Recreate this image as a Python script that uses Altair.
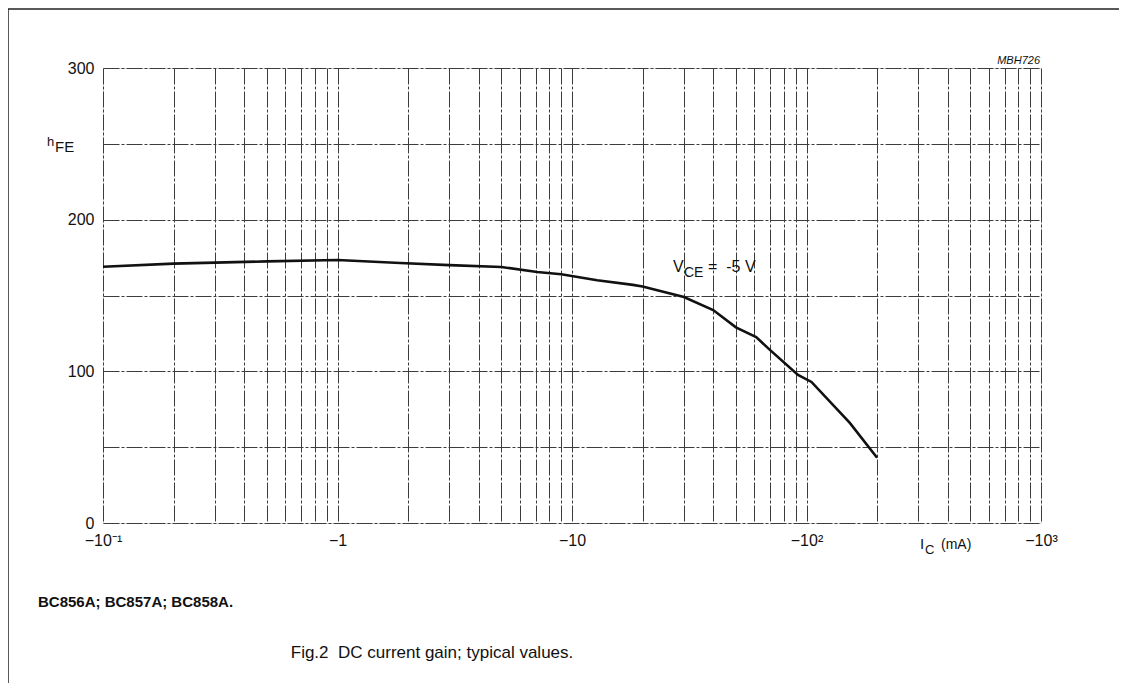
import altair as alt
import pandas as pd

# ---- data ----
ic_ma = [0.1, 0.2, 0.5, 1.0, 1.85, 3.0, 5.0, 7.1, 9.0, 12.8, 18.2, 20.0, 30.0, 40.0, 50.0, 61.0, 70.0, 92.0, 105.0, 153.0, 200.0]
hfe = [169.0, 171.0, 172.5, 173.4, 171.4, 170.0, 168.8, 165.5, 164.0, 160.0, 157.0, 156.0, 149.0, 140.4, 129.0, 122.6, 114.0, 97.6, 93.0, 66.0, 43.0]

x_grid = [0.1, 0.2, 0.3, 0.4, 0.5, 0.6, 0.7, 0.8, 0.9,
          1, 2, 3, 4, 5, 6, 7, 8, 9,
          10, 20, 30, 40, 50, 60, 70, 80, 90,
          100, 200, 300, 400, 500, 600, 700, 800, 900, 1000]
y_grid = [0, 50, 100, 150, 200, 250, 300]

df = pd.DataFrame({"ic": ic_ma, "hfe": hfe})

FONT = "Liberation Sans"
W, H = 938, 455

x_label_expr = (
    "abs(datum.value-0.1)<1e-9 ? '\u221210\u207b\u00b9' : "
    "abs(datum.value-1)<1e-9 ? '\u22121' : "
    "abs(datum.value-10)<1e-9 ? '\u221210' : "
    "abs(datum.value-100)<1e-9 ? '\u221210\u00b2' : "
    "abs(datum.value-1000)<1e-9 ? '\u221210\u00b3' : ''"
)

grid_style = dict(grid=True, gridColor="#3c3c3c", gridDash=[16, 2, 3, 2], gridWidth=1,
                  ticks=False, domain=False, title=None,
                  labelFont=FONT, labelFontSize=16, labelColor="#111")

line = alt.Chart(df).mark_line(color="#111", strokeWidth=2.6).encode(
    x=alt.X("ic:Q",
            scale=alt.Scale(type="log", domain=[0.1, 1000], nice=False),
            axis=alt.Axis(values=x_grid, labelExpr=x_label_expr, labelPadding=9,
                          labelFlush=False, labelOverlap=False, **grid_style)),
    y=alt.Y("hfe:Q",
            scale=alt.Scale(domain=[0, 300], nice=False),
            axis=alt.Axis(values=y_grid,
                          labelExpr="datum.value % 100 == 0 ? datum.label : ''",
                          labelPadding=9, **grid_style)),
)

one = alt.Data(values=[{}])


def txt(text, x, y, size, **kw):
    return alt.Chart(one).mark_text(font=FONT, fontSize=size, color="#111",
                                    align=kw.pop("align", "left"),
                                    baseline=kw.pop("baseline", "alphabetic"), **kw).encode(
        x=alt.value(x), y=alt.value(y), text=alt.value(text))


annotations = [
    txt("V", 570, 204, 16),
    txt("CE", 581, 209, 14),
    txt("=  -5 V".replace(" ", "\u00a0"), 605, 204, 16),
    txt("MBH726", 937, -4, 11, fontStyle="italic", align="right"),
    txt("h", -56, 78, 13),
    txt("FE", -48, 84, 15),
    txt("I", 817, 481, 15),
    txt("C", 822, 486, 13),
    txt("(mA)", 838, 481, 14),
    txt("BC856A; BC857A; BC858A.", -65, 539, 15, fontWeight="bold"),
    txt("Fig.2  DC current gain; typical values.".replace(" ", "\u00a0"), 329, 590, 17, align="center"),
]

frame = [
    alt.Chart(one).mark_rule(color="#222", strokeWidth=1.5).encode(
        x=alt.value(-95), x2=alt.value(1016), y=alt.value(-59)),
    alt.Chart(one).mark_rule(color="#222", strokeWidth=1.5).encode(
        x=alt.value(-95), y=alt.value(-59), y2=alt.value(615)),
]

chart = alt.layer(line, *annotations, *frame).properties(
    width=W, height=H,
    autosize=alt.AutoSizeParams(type="none"),
    padding={"left": 95, "top": 60, "right": 78, "bottom": 160},
).configure_view(stroke=None).configure(background="white")

chart.save("out.html", embed_options={"renderer": "svg", "actions": False})
